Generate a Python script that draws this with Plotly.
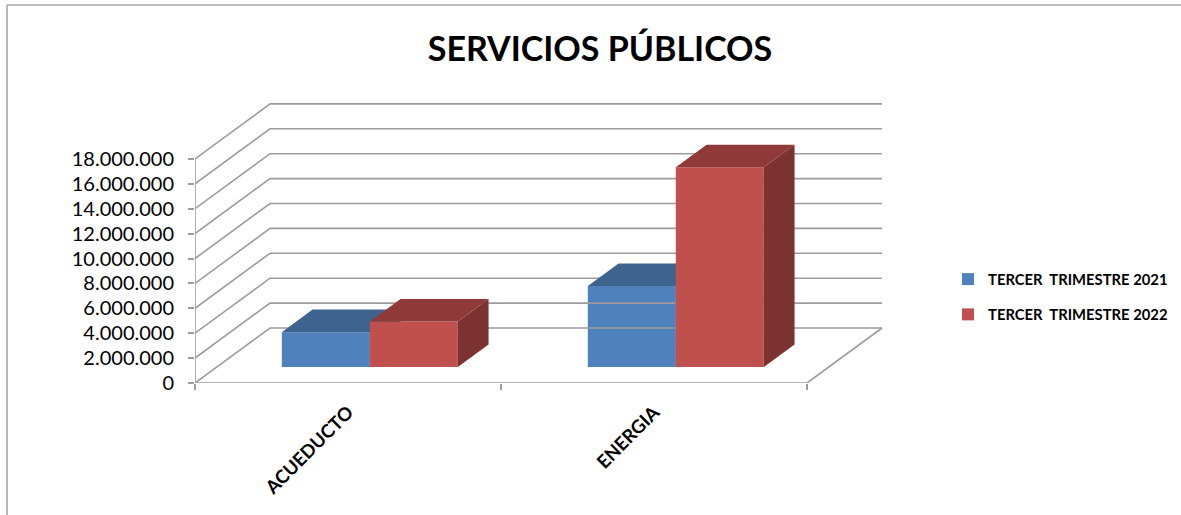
import plotly.graph_objects as go

# ---- data ----
categories = ["ACUEDUCTO", "ENERGIA"]
series_names = ["TERCER  TRIMESTRE 2021", "TERCER  TRIMESTRE 2022"]
values_2021 = [2800000, 6500000]
values_2022 = [3650000, 16050000]
y_ticks = [0, 2000000, 4000000, 6000000, 8000000, 10000000, 12000000, 14000000, 16000000, 18000000]
y_tick_labels = ["0", "2.000.000", "4.000.000", "6.000.000", "8.000.000", "10.000.000",
                 "12.000.000", "14.000.000", "16.000.000", "18.000.000"]

# ---- layout geometry ----
W, H = 1181, 515
L, R, T, B = 195, 885, 100, 383
PX_PER_CAT = 306.0
UNITS_PER_PX = 2000000 / 24.9
SHIFT_X = 75 / PX_PER_CAT        # oblique shift of the back wall, in category units
SHIFT_Y = 55 * UNITS_PER_PX      # oblique shift of the back wall, in value units
BAR_W = 88 / PX_PER_CAT
D0, D1 = 16 / 55, 16 / 55 + 0.41  # depth span of the bars
GRID = "#9c9c9c"
N = len(categories)

fig = go.Figure()


def line(xs, ys, width=1.6):
    fig.add_trace(go.Scatter(x=xs, y=ys, mode="lines", line=dict(color=GRID, width=width),
                             showlegend=False, hoverinfo="skip", cliponaxis=False))


# walls
for v in y_ticks:
    line([0, SHIFT_X, N + SHIFT_X], [v, v + SHIFT_Y, v + SHIFT_Y])
line([0, 0], [0, y_ticks[-1]])
line([0, N, N + SHIFT_X], [0, 0, SHIFT_Y])


def box(values, name, offset, front, top, side, xa, ya):
    xs = [i + 0.5 + offset * BAR_W + D0 * SHIFT_X for i in range(N)]
    base = D0 * SHIFT_Y
    fig.add_trace(go.Bar(x=xs, y=values, base=[base] * N, width=BAR_W, name=name,
                         legendgroup=name,
                         marker=dict(color=front, line=dict(width=0)),
                         offset=0, xaxis=xa, yaxis=ya))
    dx, dy = (D1 - D0) * SHIFT_X, (D1 - D0) * SHIFT_Y
    for x, v in zip(xs, values):
        y = base + v
        fig.add_trace(go.Scatter(
            x=[x + BAR_W, x + BAR_W + dx, x + BAR_W + dx, x + BAR_W, x + BAR_W],
            y=[base, base + dy, y + dy, y, base],
            mode="lines", fill="toself", fillcolor=side, line=dict(width=0),
            showlegend=False, hoverinfo="skip", xaxis=xa, yaxis=ya))
        fig.add_trace(go.Scatter(
            x=[x, x + BAR_W, x + BAR_W + dx, x + dx, x],
            y=[y, y, y + dy, y + dy, y],
            mode="lines", fill="toself", fillcolor=top, line=dict(width=0),
            showlegend=False, hoverinfo="skip", xaxis=xa, yaxis=ya))


box(values_2021, series_names[0], -1, "#4F81BD", "#3E638F", "#345277", "x", "y")
box(values_2022, series_names[1], 0, "#C0504D", "#8F3A38", "#7B3230", "x2", "y2")

x_range = [0, (R - L) / PX_PER_CAT]
y_range = [0, (B - T) * UNITS_PER_PX]


def px(x):
    return (x - L) / (R - L)


def py(y):
    return (B - y) / (B - T)


fig.update_layout(
    width=W, height=H, autosize=False,
    margin=dict(l=L, r=W - R, t=T, b=H - B, pad=0),
    paper_bgcolor="white", plot_bgcolor="rgba(0,0,0,0)",
    barmode="overlay",
    font=dict(family="Lato, Carlito, Calibri, sans-serif", color="black"),
    title=dict(text="<b>SERVICIOS PÚBLICOS</b>", font=dict(size=34, color="black"),
               x=600 / W, xref="container", xanchor="center",
               y=1 - 49 / H, yref="container", yanchor="middle"),
    xaxis=dict(range=x_range, tickmode="array", tickvals=[i + 0.5 for i in range(N)],
               ticktext=["<b>%s</b>" % c for c in categories], tickangle=-45, ticks="",
               showgrid=False, zeroline=False,
               showline=False, tickfont=dict(size=18.5, color="black"),
               ticklabelstandoff=14,
               minor=dict(tickmode="array", tickvals=list(range(N + 1)), ticks="outside",
                          ticklen=6, tickcolor=GRID, tickwidth=1.5, showgrid=False)),
    yaxis=dict(range=y_range, tickmode="array", tickvals=y_ticks, ticktext=y_tick_labels,
               ticks="outside", ticklen=6, tickcolor=GRID, tickwidth=1.5, showgrid=False,
               zeroline=False, showline=False, tickfont=dict(size=20, color="black"),
               ticklabelstandoff=10),
    xaxis2=dict(overlaying="x", matches="x", visible=False),
    yaxis2=dict(overlaying="y", matches="y", visible=False),
    legend=dict(x=948 / W, y=1 - 263 / H, xref="container", yref="container",
                xanchor="left", yanchor="top",
                font=dict(size=14.8, color="black", weight="bold"),
                itemwidth=30, tracegroupgap=13, bgcolor="rgba(0,0,0,0)"),
    shapes=[
        dict(type="line", xref="paper", yref="paper", x0=px(7), x1=px(7), y0=py(5), y1=py(515),
             line=dict(color="#a6a6a6", width=1.6)),
        dict(type="line", xref="paper", yref="paper", x0=px(7), x1=px(1181), y0=py(5), y1=py(5),
             line=dict(color="#a6a6a6", width=1.6)),
    ],
)

fig.write_html("out.html", config={"displayModeBar": False},
               post_script="document.body.style.margin='0';document.documentElement.style.overflow='hidden';")
